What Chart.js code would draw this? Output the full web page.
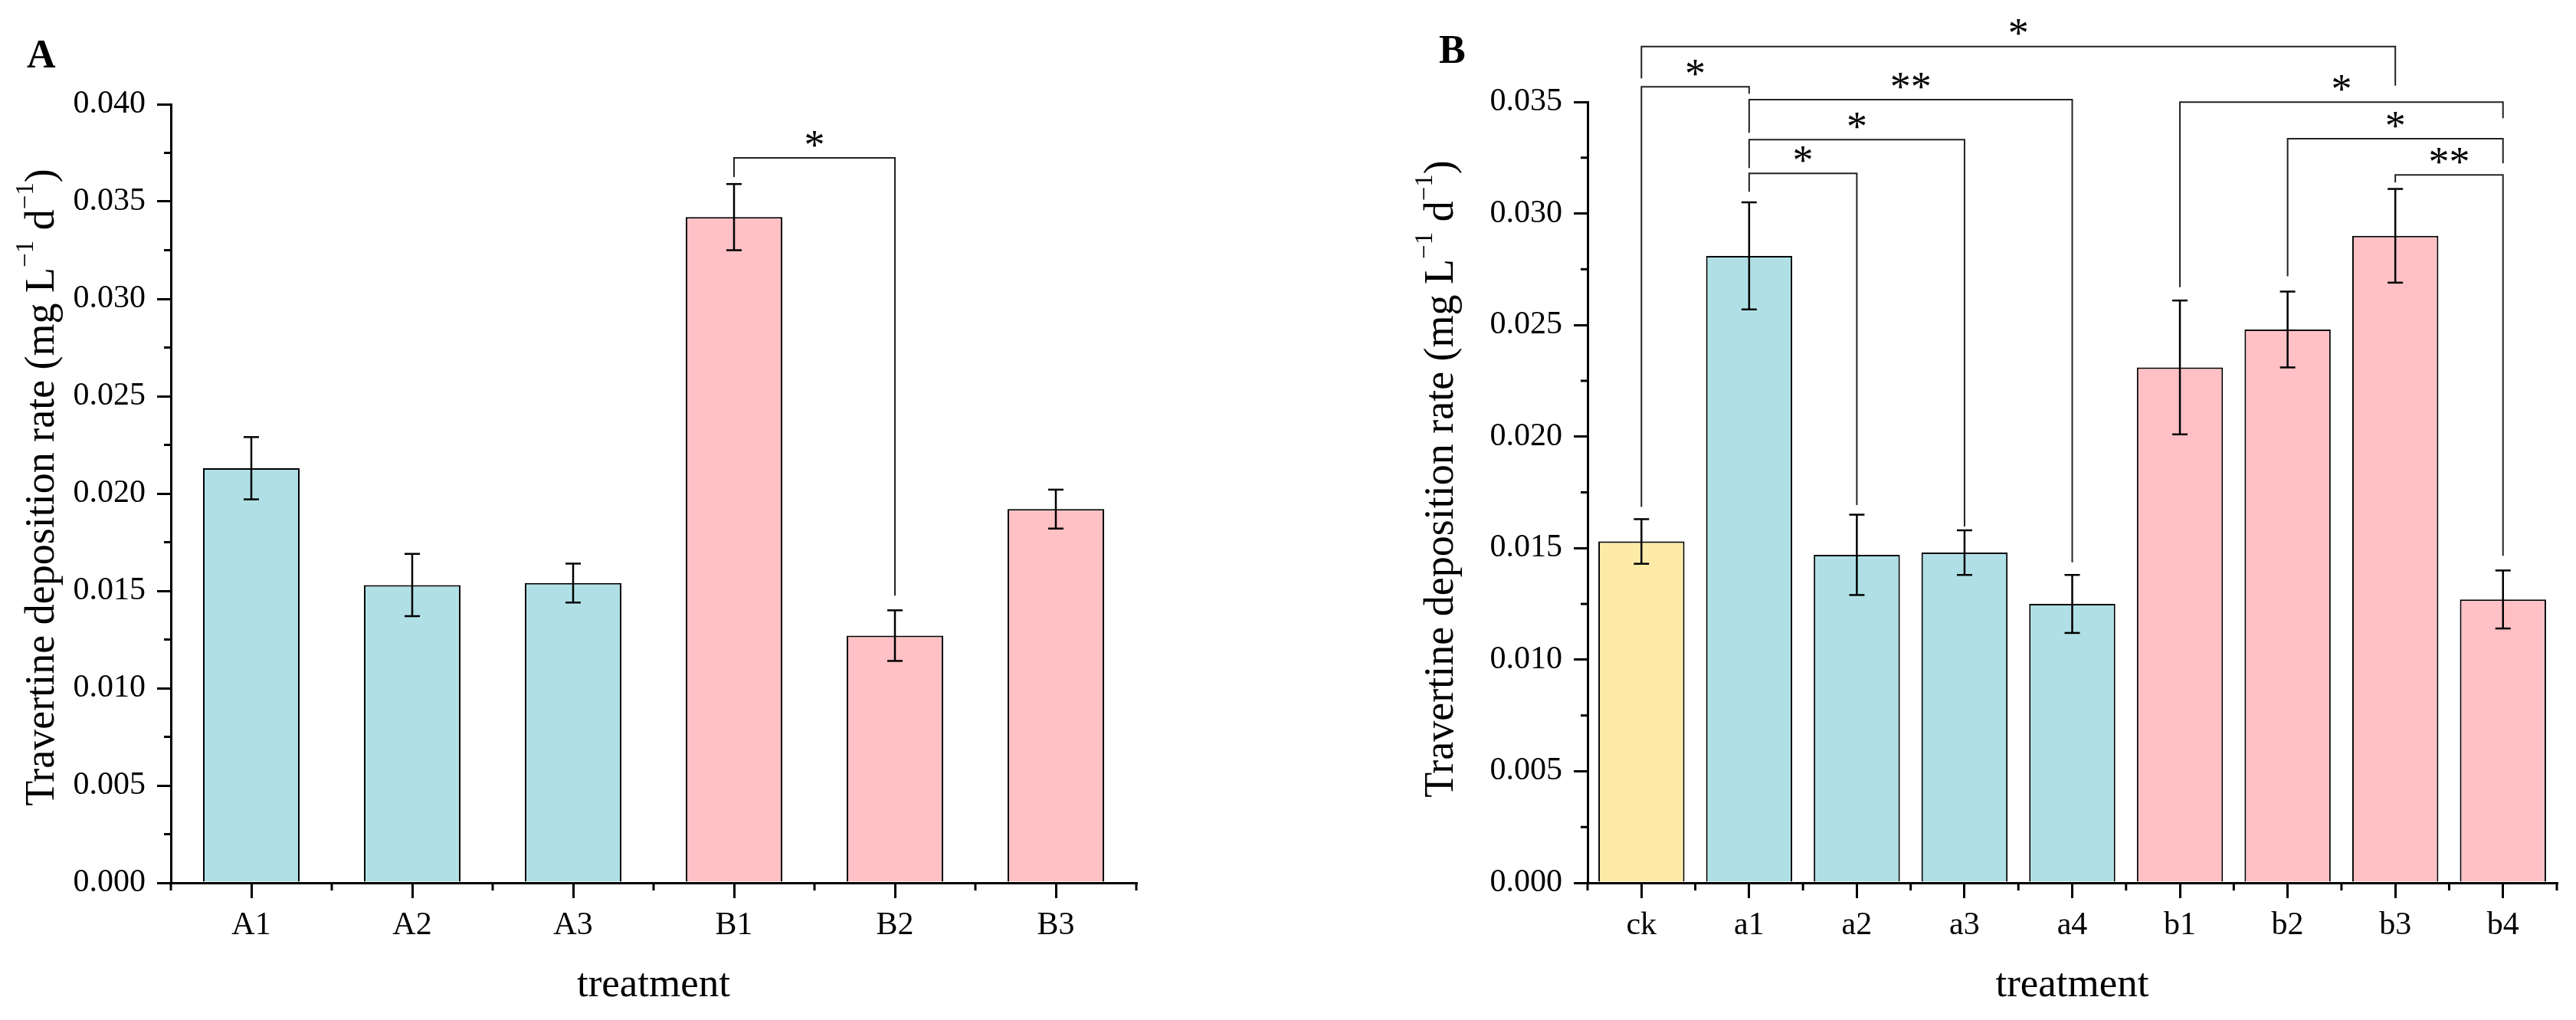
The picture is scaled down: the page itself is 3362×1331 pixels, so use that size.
<!DOCTYPE html>
<html>
<head>
<meta charset="utf-8">
<script src="https://cdn.jsdelivr.net/npm/chart.js@4.4.0/dist/chart.umd.min.js"></script>
<style>
  html, body { margin: 0; padding: 0; background: #fff; }
  body { width: 3362px; height: 1331px; position: relative; overflow: hidden; }
  canvas { position: absolute; top: 0; }
</style>
</head>
<body>
<canvas id="chartA" width="1680" height="1331" style="left:0px"></canvas>
<canvas id="chartB" width="1682" height="1331" style="left:1680px"></canvas>
<script>
// ---- Panel A data ----
const labelsA = ["A1", "A2", "A3", "B1", "B2", "B3"];
const valuesA = [0.0213, 0.0153, 0.0154, 0.0342, 0.0127, 0.0192];
const errorsA = [0.0016, 0.0016, 0.0010, 0.0017, 0.0013, 0.0010];
const groupsA = ["a", "a", "a", "b", "b", "b"];
const yTicksA = [0, 0.005, 0.010, 0.015, 0.020, 0.025, 0.030, 0.035, 0.040];
// significance brackets: [fromIndex, toIndex, lineValue, leftLegEnd, rightLegEnd, mark]
const bracketsA = [
  [3, 4, 0.03724, 0.03626, 0.01475, "*"]
];

// ---- Panel B data ----
const labelsB = ["ck", "a1", "a2", "a3", "a4", "b1", "b2", "b3", "b4"];
const valuesB = [0.0153, 0.0281, 0.0147, 0.0148, 0.0125, 0.0231, 0.0248, 0.0290, 0.0127];
const errorsB = [0.0010, 0.0024, 0.0018, 0.0010, 0.0013, 0.0030, 0.0017, 0.0021, 0.0013];
const groupsB = ["ck", "a", "a", "a", "a", "b", "b", "b", "b"];
const yTicksB = [0, 0.005, 0.010, 0.015, 0.020, 0.025, 0.030, 0.035];
const bracketsB = [
  [0, 7, 0.03748, 0.03606, 0.03573, "*"],
  [0, 1, 0.03568, 0.01685, 0.03537, "*"],
  [1, 4, 0.03510, 0.03362, 0.01437, "**"],
  [1, 3, 0.03331, 0.03204, 0.01597, "*"],
  [1, 2, 0.03180, 0.03097, 0.01693, "*"],
  [5, 8, 0.03499, 0.02670, 0.03427, "*"],
  [6, 8, 0.03335, 0.02719, 0.03225, "*"],
  [7, 8, 0.03173, 0.03139, 0.01466, "**"]
];

// ---- styles ----
const FONT = '"Liberation Serif", "Times New Roman", serif';
const groupColors = { ck: "#fdeaa8", a: "#b0e0e6", b: "#ffc1c6" };

function line(ctx, x1, y1, x2, y2) {
  ctx.beginPath();
  ctx.moveTo(x1, y1);
  ctx.lineTo(x2, y2);
  ctx.stroke();
}

// draws error bars, minor ticks, labels, titles and brackets on top of the bars
function panelPlugin(p) {
  return {
    id: "panel" + p.letter,
    afterDraw(chart) {
      const ctx = chart.ctx;
      const xs = chart.scales.x, ys = chart.scales.y;
      const area = chart.chartArea;
      ctx.save();

      // error bars
      ctx.strokeStyle = "#000";
      ctx.lineWidth = 2.5;
      p.values.forEach((v, i) => {
        const px = xs.getPixelForValue(i);
        const top = ys.getPixelForValue(v + p.errors[i]);
        const bot = ys.getPixelForValue(v - p.errors[i]);
        line(ctx, px, top, px, bot);
        line(ctx, px - 10, top, px + 10, top);
        line(ctx, px - 10, bot, px + 10, bot);
      });

      // minor ticks
      ctx.lineWidth = 3;
      for (let k = 0; k < p.yTicks.length - 1; k++) {
        const py = ys.getPixelForValue((p.yTicks[k] + p.yTicks[k + 1]) / 2);
        line(ctx, area.left - 9, py, area.left, py);
      }
      for (let i = 0; i <= p.labels.length; i++) {
        const px = xs.getPixelForValue(i - 0.5);
        line(ctx, px, area.bottom, px, area.bottom + 10);
      }

      // x tick labels
      ctx.fillStyle = "#000";
      ctx.font = "42px " + FONT;
      ctx.textAlign = "center";
      ctx.textBaseline = "alphabetic";
      p.labels.forEach((l, i) => ctx.fillText(l, xs.getPixelForValue(i), 1219));

      // x title
      ctx.font = "53px " + FONT;
      ctx.fillText("treatment", (area.left + area.right) / 2, 1300);

      // panel letter
      ctx.font = "bold 52px " + FONT;
      ctx.textAlign = "left";
      ctx.fillText(p.letter, p.letterX, p.letterY);

      // y title with superscripts
      const parts = [
        ["Travertine deposition rate (mg L", 1, 0],
        ["\u22121", 0.62, 27],
        [" d", 1, 0],
        ["\u22121", 0.62, 27],
        [")", 1, 0]
      ];
      const base = 54;
      let total = 0;
      parts.forEach(([t, s]) => {
        ctx.font = Math.round(base * s) + "px " + FONT;
        total += ctx.measureText(t).width;
      });
      ctx.save();
      ctx.translate(p.titleX, p.titleY);
      ctx.rotate(-Math.PI / 2);
      let cx = -total / 2;
      parts.forEach(([t, s, raise]) => {
        ctx.font = Math.round(base * s) + "px " + FONT;
        ctx.fillText(t, cx, -raise);
        cx += ctx.measureText(t).width;
      });
      ctx.restore();

      // significance brackets
      ctx.strokeStyle = "#222";
      ctx.lineWidth = 2;
      ctx.font = "54px " + FONT;
      ctx.textAlign = "center";
      p.brackets.forEach(([a, b, yv, e1, e2, mark]) => {
        const x1 = xs.getPixelForValue(a), x2 = xs.getPixelForValue(b);
        const yl = ys.getPixelForValue(yv);
        ctx.beginPath();
        ctx.moveTo(x1, ys.getPixelForValue(e1));
        ctx.lineTo(x1, yl);
        ctx.lineTo(x2, yl);
        ctx.lineTo(x2, ys.getPixelForValue(e2));
        ctx.stroke();
        const m = ctx.measureText(mark);
        const mid = (m.actualBoundingBoxAscent - m.actualBoundingBoxDescent) / 2;
        ctx.fillText(mark, (x1 + x2) / 2, yl - 25 + mid);
      });

      ctx.restore();
    }
  };
}

function makePanel(canvasId, p) {
  const ctx = document.getElementById(canvasId).getContext("2d");
  return new Chart(ctx, {
    type: "bar",
    data: {
      labels: p.labels,
      datasets: [{
        data: p.values,
        backgroundColor: p.groups.map(g => groupColors[g]),
        borderColor: "#000",
        borderWidth: 2,
        categoryPercentage: 1,
        barPercentage: p.barPct
      }]
    },
    options: {
      responsive: false,
      devicePixelRatio: 1,
      animation: false,
      layout: { padding: { left: 0, top: p.top, right: p.padRight, bottom: 0 } },
      plugins: { legend: { display: false }, tooltip: { enabled: false } },
      scales: {
        x: {
          type: "category",
          offset: true,
          grid: { offset: false, drawOnChartArea: false, drawTicks: true, tickLength: 20, lineWidth: 3, color: "#000" },
          border: { display: true, width: 3, color: "#000" },
          ticks: { display: false },
          afterFit: s => { s.height = 179; }
        },
        y: {
          min: 0,
          max: p.yTicks[p.yTicks.length - 1],
          afterBuildTicks: s => { s.ticks = p.yTicks.map(v => ({ value: v })); },
          grid: { drawOnChartArea: false, drawTicks: true, tickLength: 18, lineWidth: 3, color: "#000" },
          border: { display: true, width: 3, color: "#000" },
          ticks: {
            padding: 15,
            color: "#000",
            font: { family: FONT, size: 42 },
            callback: v => Number(v).toFixed(3)
          },
          afterFit: s => { s.width = p.axisLeft; }
        }
      }
    },
    plugins: [panelPlugin(p)]
  });
}

makePanel("chartA", {
  letter: "A", letterX: 35, letterY: 88,
  labels: labelsA, values: valuesA, errors: errorsA, groups: groupsA,
  yTicks: yTicksA, brackets: bracketsA,
  barPct: 0.6, axisLeft: 223, top: 136, padRight: 197,
  titleX: 70, titleY: 636
});

makePanel("chartB", {
  letter: "B", letterX: 198, letterY: 82,
  labels: labelsB, values: valuesB, errors: errorsB, groups: groupsB,
  yTicks: yTicksB, brackets: bracketsB,
  barPct: 0.8, axisLeft: 392, top: 133, padRight: 25,
  titleX: 216, titleY: 625
});
</script>
</body>
</html>
